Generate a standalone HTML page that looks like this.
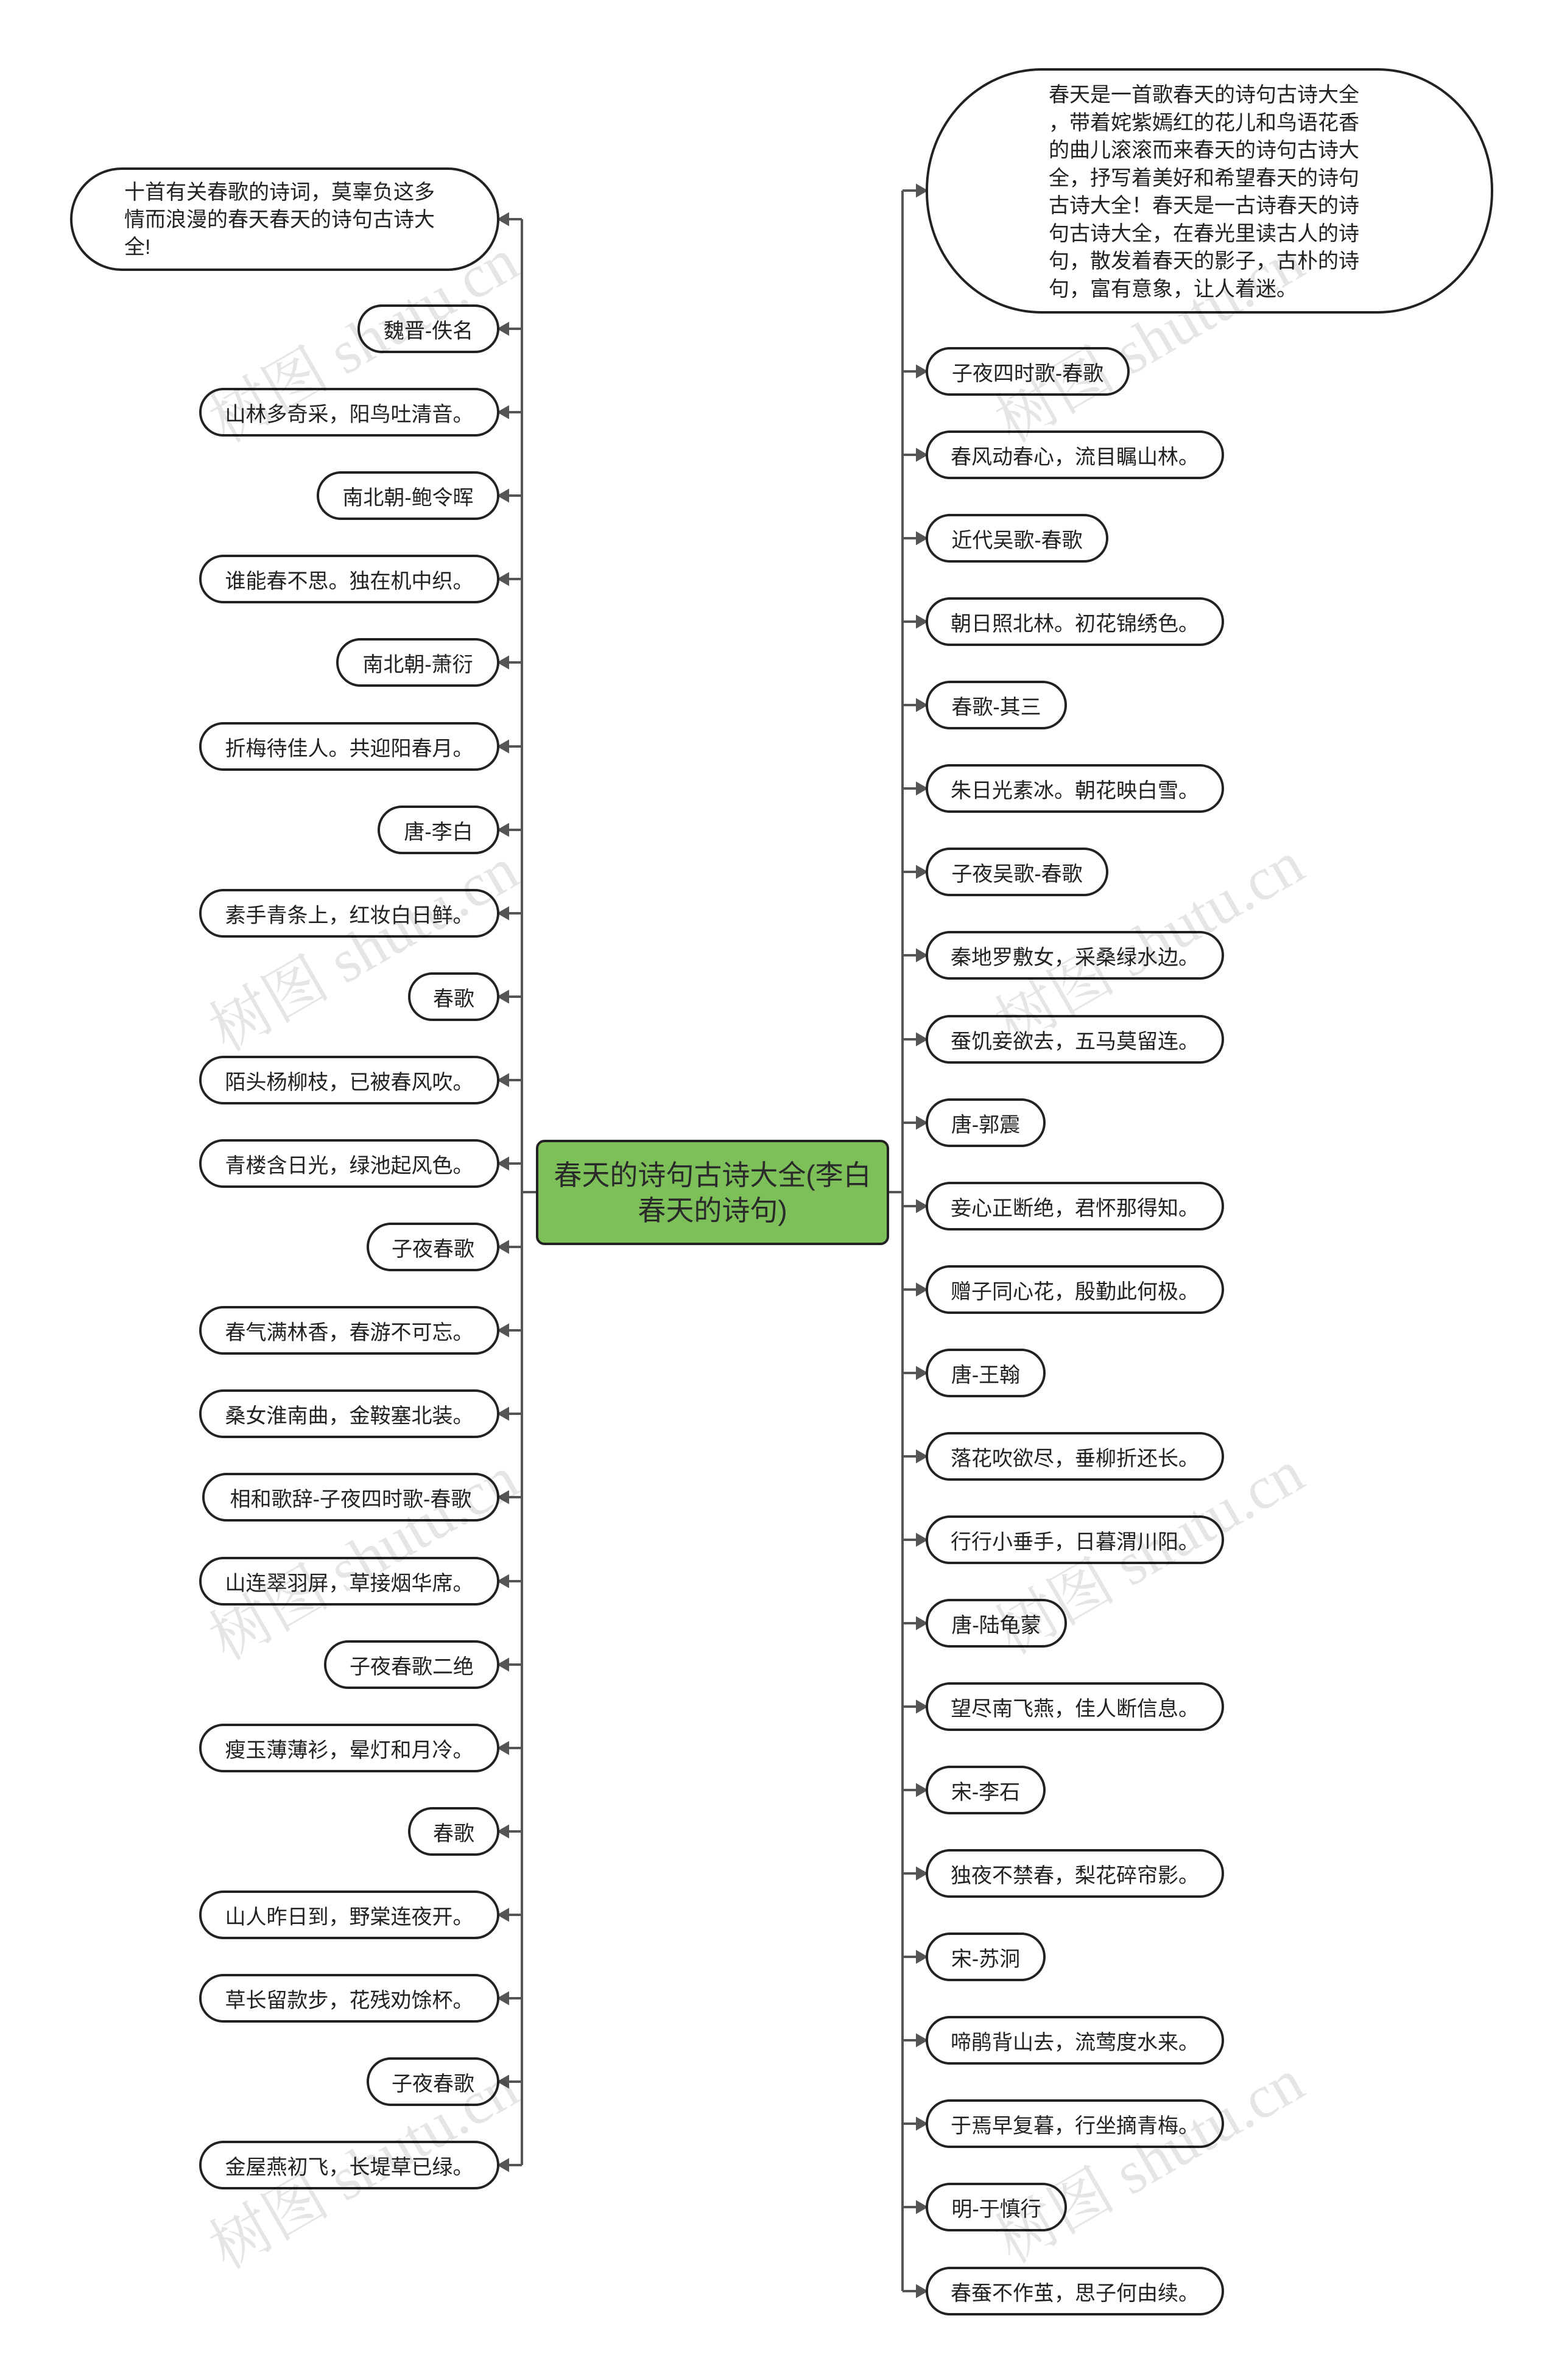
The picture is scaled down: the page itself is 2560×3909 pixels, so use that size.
<!DOCTYPE html>
<html><head><meta charset="utf-8"><style>
html,body{margin:0;padding:0;background:#fff;}
body{width:2560px;height:3909px;position:relative;overflow:hidden;font-family:"Liberation Sans","Noto Sans CJK SC",sans-serif;color:#222;}
.n{position:absolute;height:80px;box-sizing:border-box;border:4px solid #222;border-radius:40px;background:#fff;display:flex;align-items:center;justify-content:center;font-size:34px;white-space:nowrap;}
.wm{position:absolute;font-family:"Liberation Serif","Noto Serif CJK SC",serif;font-size:100px;color:rgba(0,0,0,0.10);transform:rotate(-30deg);white-space:nowrap;transform-origin:left center;}
</style></head><body>
<svg width="2560" height="3909" style="position:absolute;left:0;top:0" stroke="#555" stroke-width="4" fill="#555">
<line x1="857" y1="360" x2="857" y2="3556"/>
<line x1="1482" y1="313" x2="1482" y2="3763"/>
<line x1="857" y1="1958" x2="880" y2="1958"/>
<line x1="1460" y1="1958" x2="1482" y2="1958"/>
<g>
<path d="M857 360H832M820 360l14-8v16z"/>
<path d="M857 540H832M820 540l14-8v16z"/>
<path d="M857 677H832M820 677l14-8v16z"/>
<path d="M857 814H832M820 814l14-8v16z"/>
<path d="M857 951H832M820 951l14-8v16z"/>
<path d="M857 1088H832M820 1088l14-8v16z"/>
<path d="M857 1226H832M820 1226l14-8v16z"/>
<path d="M857 1363H832M820 1363l14-8v16z"/>
<path d="M857 1500H832M820 1500l14-8v16z"/>
<path d="M857 1637H832M820 1637l14-8v16z"/>
<path d="M857 1774H832M820 1774l14-8v16z"/>
<path d="M857 1911H832M820 1911l14-8v16z"/>
<path d="M857 2048H832M820 2048l14-8v16z"/>
<path d="M857 2185H832M820 2185l14-8v16z"/>
<path d="M857 2322H832M820 2322l14-8v16z"/>
<path d="M857 2459H832M820 2459l14-8v16z"/>
<path d="M857 2597H832M820 2597l14-8v16z"/>
<path d="M857 2734H832M820 2734l14-8v16z"/>
<path d="M857 2871H832M820 2871l14-8v16z"/>
<path d="M857 3008H832M820 3008l14-8v16z"/>
<path d="M857 3145H832M820 3145l14-8v16z"/>
<path d="M857 3282H832M820 3282l14-8v16z"/>
<path d="M857 3419H832M820 3419l14-8v16z"/>
<path d="M857 3556H832M820 3556l14-8v16z"/>
</g>
<g>
<path d="M1482 313H1508M1520 313l-14-8v16z"/>
<path d="M1482 610H1508M1520 610l-14-8v16z"/>
<path d="M1482 747H1508M1520 747l-14-8v16z"/>
<path d="M1482 884H1508M1520 884l-14-8v16z"/>
<path d="M1482 1021H1508M1520 1021l-14-8v16z"/>
<path d="M1482 1158H1508M1520 1158l-14-8v16z"/>
<path d="M1482 1295H1508M1520 1295l-14-8v16z"/>
<path d="M1482 1432H1508M1520 1432l-14-8v16z"/>
<path d="M1482 1569H1508M1520 1569l-14-8v16z"/>
<path d="M1482 1707H1508M1520 1707l-14-8v16z"/>
<path d="M1482 1844H1508M1520 1844l-14-8v16z"/>
<path d="M1482 1981H1508M1520 1981l-14-8v16z"/>
<path d="M1482 2118H1508M1520 2118l-14-8v16z"/>
<path d="M1482 2255H1508M1520 2255l-14-8v16z"/>
<path d="M1482 2392H1508M1520 2392l-14-8v16z"/>
<path d="M1482 2529H1508M1520 2529l-14-8v16z"/>
<path d="M1482 2666H1508M1520 2666l-14-8v16z"/>
<path d="M1482 2803H1508M1520 2803l-14-8v16z"/>
<path d="M1482 2940H1508M1520 2940l-14-8v16z"/>
<path d="M1482 3077H1508M1520 3077l-14-8v16z"/>
<path d="M1482 3214H1508M1520 3214l-14-8v16z"/>
<path d="M1482 3351H1508M1520 3351l-14-8v16z"/>
<path d="M1482 3488H1508M1520 3488l-14-8v16z"/>
<path d="M1482 3625H1508M1520 3625l-14-8v16z"/>
<path d="M1482 3763H1508M1520 3763l-14-8v16z"/>
</g>
</svg>

<div style="position:absolute;left:880px;top:1872px;width:580px;height:173px;box-sizing:border-box;border:4px solid #222;border-radius:14px;background:#7dc05a;display:flex;align-items:center;justify-content:center;text-align:center;font-size:46px;line-height:58px;color:#2a2a2a;">春天的诗句古诗大全(李白<br>春天的诗句)</div>

<div style="position:absolute;left:115px;top:275px;width:705px;height:170px;box-sizing:border-box;border:4px solid #222;border-radius:85px;background:#fff;font-size:34px;line-height:45px;padding:15px 0 0 85px;">十首有关春歌的诗词，莫辜负这多<br>情而浪漫的春天春天的诗句古诗大<br>全!</div>

<div style="position:absolute;left:1520px;top:112px;width:932px;height:403px;box-sizing:border-box;border:4px solid #222;border-radius:190px/200px;background:#fff;font-size:34px;line-height:45.5px;padding:18px 0 0 198px;">春天是一首歌春天的诗句古诗大全<br>，带着姹紫嫣红的花儿和鸟语花香<br>的曲儿滚滚而来春天的诗句古诗大<br>全，抒写着美好和希望春天的诗句<br>古诗大全！春天是一古诗春天的诗<br>句古诗大全，在春光里读古人的诗<br>句，散发着春天的影子，古朴的诗<br>句，富有意象，让人着迷。</div>

<div class="n" style="left:587px;width:233px;top:500px">魏晋-佚名</div>
<div class="n" style="left:327px;width:493px;top:637px">山林多奇采，阳鸟吐清音。</div>
<div class="n" style="left:520px;width:300px;top:774px">南北朝-鲍令晖</div>
<div class="n" style="left:327px;width:493px;top:911px">谁能春不思。独在机中织。</div>
<div class="n" style="left:552px;width:268px;top:1048px">南北朝-萧衍</div>
<div class="n" style="left:327px;width:493px;top:1186px">折梅待佳人。共迎阳春月。</div>
<div class="n" style="left:620px;width:200px;top:1323px">唐-李白</div>
<div class="n" style="left:327px;width:493px;top:1460px">素手青条上，红妆白日鲜。</div>
<div class="n" style="left:670px;width:150px;top:1597px">春歌</div>
<div class="n" style="left:327px;width:493px;top:1734px">陌头杨柳枝，已被春风吹。</div>
<div class="n" style="left:327px;width:493px;top:1871px">青楼含日光，绿池起风色。</div>
<div class="n" style="left:602px;width:218px;top:2008px">子夜春歌</div>
<div class="n" style="left:327px;width:493px;top:2145px">春气满林香，春游不可忘。</div>
<div class="n" style="left:327px;width:493px;top:2282px">桑女淮南曲，金鞍塞北装。</div>
<div class="n" style="left:332px;width:488px;top:2419px">相和歌辞-子夜四时歌-春歌</div>
<div class="n" style="left:327px;width:493px;top:2557px">山连翠羽屏，草接烟华席。</div>
<div class="n" style="left:532px;width:288px;top:2694px">子夜春歌二绝</div>
<div class="n" style="left:327px;width:493px;top:2831px">瘦玉薄薄衫，晕灯和月冷。</div>
<div class="n" style="left:670px;width:150px;top:2968px">春歌</div>
<div class="n" style="left:327px;width:493px;top:3105px">山人昨日到，野棠连夜开。</div>
<div class="n" style="left:327px;width:493px;top:3242px">草长留款步，花残劝馀杯。</div>
<div class="n" style="left:602px;width:218px;top:3379px">子夜春歌</div>
<div class="n" style="left:327px;width:493px;top:3516px">金屋燕初飞，长堤草已绿。</div>

<div class="n" style="left:1520px;width:335px;top:570px">子夜四时歌-春歌</div>
<div class="n" style="left:1520px;width:490px;top:707px">春风动春心，流目瞩山林。</div>
<div class="n" style="left:1520px;width:300px;top:844px">近代吴歌-春歌</div>
<div class="n" style="left:1520px;width:490px;top:981px">朝日照北林。初花锦绣色。</div>
<div class="n" style="left:1520px;width:232px;top:1118px">春歌-其三</div>
<div class="n" style="left:1520px;width:490px;top:1255px">朱日光素冰。朝花映白雪。</div>
<div class="n" style="left:1520px;width:300px;top:1392px">子夜吴歌-春歌</div>
<div class="n" style="left:1520px;width:490px;top:1529px">秦地罗敷女，采桑绿水边。</div>
<div class="n" style="left:1520px;width:490px;top:1667px">蚕饥妾欲去，五马莫留连。</div>
<div class="n" style="left:1520px;width:197px;top:1804px">唐-郭震</div>
<div class="n" style="left:1520px;width:490px;top:1941px">妾心正断绝，君怀那得知。</div>
<div class="n" style="left:1520px;width:490px;top:2078px">赠子同心花，殷勤此何极。</div>
<div class="n" style="left:1520px;width:197px;top:2215px">唐-王翰</div>
<div class="n" style="left:1520px;width:490px;top:2352px">落花吹欲尽，垂柳折还长。</div>
<div class="n" style="left:1520px;width:490px;top:2489px">行行小垂手，日暮渭川阳。</div>
<div class="n" style="left:1520px;width:232px;top:2626px">唐-陆龟蒙</div>
<div class="n" style="left:1520px;width:490px;top:2763px">望尽南飞燕，佳人断信息。</div>
<div class="n" style="left:1520px;width:197px;top:2900px">宋-李石</div>
<div class="n" style="left:1520px;width:490px;top:3037px">独夜不禁春，梨花碎帘影。</div>
<div class="n" style="left:1520px;width:197px;top:3174px">宋-苏泂</div>
<div class="n" style="left:1520px;width:490px;top:3311px">啼鹃背山去，流莺度水来。</div>
<div class="n" style="left:1520px;width:490px;top:3448px">于焉早复暮，行坐摘青梅。</div>
<div class="n" style="left:1520px;width:232px;top:3585px">明-于慎行</div>
<div class="n" style="left:1520px;width:490px;top:3723px">春蚕不作茧，思子何由续。</div>

<div class="wm" style="left:350px;top:620px">树图 shutu.cn</div>
<div class="wm" style="left:350px;top:1620px">树图 shutu.cn</div>
<div class="wm" style="left:350px;top:2620px">树图 shutu.cn</div>
<div class="wm" style="left:350px;top:3620px">树图 shutu.cn</div>
<div class="wm" style="left:1640px;top:620px">树图 shutu.cn</div>
<div class="wm" style="left:1640px;top:1610px">树图 shutu.cn</div>
<div class="wm" style="left:1640px;top:2610px">树图 shutu.cn</div>
<div class="wm" style="left:1640px;top:3610px">树图 shutu.cn</div>
</body></html>
